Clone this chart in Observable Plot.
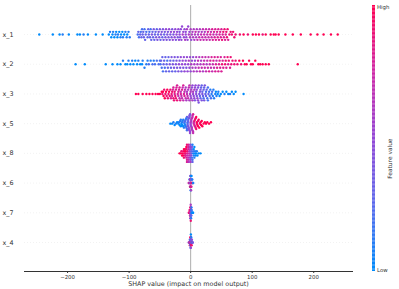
<!DOCTYPE html>
<html><head><meta charset="utf-8">
<script src="https://cdn.jsdelivr.net/npm/d3@7"></script>
<script src="https://cdn.jsdelivr.net/npm/@observablehq/plot@0.6"></script>
<style>
html,body{margin:0;padding:0;background:#fff;}
#wrap{position:relative;width:399px;height:289px;}
#wrap svg{position:absolute;top:0;overflow:visible;font-family:"DejaVu Sans",sans-serif;}
</style></head><body><div id="wrap"></div>
<script>
// feature order (top to bottom) and tick labels
const features = ["x_1","x_2","x_3","x_5","x_8","x_6","x_7","x_4"];
const xTicks = [-200,-100,0,100,200];
const colorLabels = ["Low","High"];
// colormap stops (low -> high feature value)
const colorStops = ["#008bfb","#5a68ec","#9348d6","#cf27a6","#ff0052"];

// [SHAP value, feature value 0..10]
const pts_x_1 = [[-246,0],[-224,0],[-213,0],[-208,1],[-198,0],[-184,0],[-180,0],[-174,1],[-167,0],[-154,0],[-143,0],[-133,0],[-131,1],[-129,0],[-127,0],[-126,1],[-124,0],[-122,1],[-121,0],[-119,0],[-118,1],[-116,0],[-114,1],[-113,0],[-111,0],[-110,1],[-108,0],[-106,1],[-104,1],[-103,0],[-101,1],[-99,1],
[-86,2],[-85,3],[-84,2],[-82,3],[-81,2],[-80,3],[-79,2],[-78,3],[-77,3],[-76,3],[-75,2],[-74,3],[-73,3],[-72,2],[-70,3],[-69,3],[-68,3],[-67,2],[-66,3],[-65,2],[-64,3],[-63,4],[-62,3],[-61,3],[-60,4],[-59,3],[-58,3],[-57,3],[-56,4],[-55,3],[-54,4],[-53,3],[-52,4],[-51,4],[-50,4],[-49,3],[-48,4],[-47,4],[-46,3],[-45,4],[-44,4],[-43,3],[-42,4],[-41,4],[-40,5],[-39,4],[-38,4],[-37,4],[-36,4],[-35,5],[-34,4],[-33,4],[-32,5],[-31,4],[-30,4],[-29,5],[-28,4],[-27,5],[-26,5],[-25,5],[-24,4],[-23,5],[-22,5],[-21,4],[-20,5],[-19,5],[-18,5],[-18,4],[-17,4],[-16,5],[-15,5],[-14,5],[-13,6],[-12,5],[-11,5],[-10,5],[-9,6],[-8,5],[-8,5],[-7,5],[-6,6],[-5,5],[-4,5],[-3,6],[-2,5],[-1,6],
[0,6],[1,5],[2,6],[3,6],[4,6],[5,6],[6,6],[7,6],[8,7],[9,6],[10,6],[11,7],[12,6],[13,6],[14,7],[15,6],[16,7],[17,7],[18,6],[19,7],[20,7],[21,7],[22,7],[23,6],[24,7],[25,7],[26,7],[27,7],[28,8],[29,7],[30,7],[31,7],[32,8],[33,7],[34,7],[35,8],[36,8],[37,7],[38,8],[39,8],[40,8],[41,8],[42,7],[43,8],[44,8],[45,8],[46,8],[47,8],[48,8],[49,8],[50,8],[51,9],[52,8],[53,9],[54,8],[55,9],[56,8],[57,8],[58,9],[59,9],[60,9],[61,8],[63,9],[65,9],[67,9],[69,9],[71,9],[73,9],
[80,9],[86,10],[93,9],[101,10],[106,10],[111,10],[117,9],[122,10],[130,10],[135,10],[138,10],[143,10],[154,10],[166,10],[179,10],[195,10],[206,10],[216,10],[228,10],[239,10]];

const pts_x_2 = [[-187,0],[-172,0],[-138,0],[-127,0],[-119,0],[-114,0],[-110,1],[-106,0],[-103,0],[-101,1],[-98,0],[-95,1],[-93,0],[-90,0],[-87,0],[-85,1],[-82,0],[-79,0],[-78,1],[-75,1],[-72,1],[-70,1],[-68,2],[-65,1],[-62,2],[-60,1],[-58,2],[-55,2],[-52,2],[-50,2],
[-49,2],[-48,3],[-47,2],[-46,3],[-45,2],[-44,3],[-43,3],[-42,2],[-41,3],[-40,3],[-39,3],[-38,2],[-37,3],[-36,3],[-35,3],[-34,4],[-33,3],[-32,3],[-31,4],[-30,3],[-29,4],[-28,3],[-27,4],[-26,4],[-25,3],[-24,4],[-23,4],[-22,4],[-21,4],[-20,4],[-19,5],[-18,4],[-17,4],[-16,5],[-15,4],[-14,5],[-13,5],[-12,4],[-11,5],[-10,5],[-9,5],[-8,5],[-7,4],[-6,5],[-5,5],[-4,5],[-3,6],[-2,5],[-1,5],[0,5],[1,6],[2,5],[3,6],[4,5],[5,6],[6,6],[7,5],[8,6],[9,6],[10,6],
[11,6],[12,7],[13,7],[14,6],[15,7],[16,6],[17,6],[18,7],[19,7],[20,6],[21,7],[22,7],[23,7],[24,7],[25,7],[26,6],[27,7],[28,7],[29,7],[30,8],[31,7],[32,8],[33,7],[34,8],[35,7],[36,7],[37,8],[38,7],[39,8],[40,8],[41,8],[42,7],[43,8],[44,8],[45,8],[46,8],[47,8],[48,8],[49,8],[50,8],[51,9],[52,8],[53,8],[55,8],[56,9],[57,9],[58,8],[60,9],[61,8],[62,9],[64,8],[65,9],[66,9],[68,9],[71,9],[73,9],
[76,9],[79,10],[82,9],[85,10],[88,10],[91,10],[95,10],[98,10],[101,10],[105,10],[110,10],[113,10],[117,10],[122,10],[127,10],[174,10]];

const pts_x_3 = [[-89,10],[-85,10],[-78,10],[-72,10],[-67,10],[-62,10],[-57,10],[-53,10],[-50,10],
[-47,10],[-46,9],[-45,10],[-44,10],[-43,9],[-42,10],[-41,9],[-40,10],[-39,9],[-38,10],[-37,9],[-36,9],[-35,10],[-34,9],[-33,9],[-32,8],[-31,9],[-30,9],[-30,8],[-29,8],[-28,9],[-28,8],[-27,9],[-26,8],[-26,9],[-25,9],[-24,8],[-24,9],[-23,8],[-22,9],[-22,8],[-21,8],[-20,8],[-20,7],[-19,8],[-18,7],[-18,8],[-17,8],[-16,8],[-16,7],[-15,7],[-14,8],[-14,7],[-13,7],[-12,7],[-12,8],[-11,8],[-10,7],[-10,8],[-9,7],[-8,7],[-8,6],[-7,6],[-6,7],[-6,6],[-5,7],[-4,6],[-4,7],[-3,7],[-2,6],[-2,7],[-1,6],[0,6],[0,5],[1,6],[1,5],[2,5],[3,6],[3,5],[4,5],[4,6],[5,5],[6,6],[6,5],[7,5],[7,4],[8,5],[9,5],[9,4],[10,4],[10,5],[11,5],[12,4],[12,5],[13,5],[13,4],[14,4],[15,4],[15,3],[16,4],[16,3],[17,3],[18,4],[18,3],[19,4],[19,3],[20,3],[21,3],[21,2],[22,3],[22,4],[23,4],[24,3],[25,2],[25,3],[26,3],[27,2],[28,2],[28,2],[29,3],[30,2],[31,2],[32,1],[33,2],[34,1],[35,2],[36,1],[37,1],[38,1],[40,1],[41,0],[42,1],[44,0],[45,1],[47,0],[49,0],
[52,0],[55,1],[58,0],[61,0],[64,1],[67,0],[70,0],[73,0],[86,0]];

const pts_x_5 = [[-33,0],[-30,0],[-28,1],[-26,0],[-24,1],[-22,0],
[-20,0],[-19,1],[-18,0],[-17,1],[-16,0],[-16,1],[-15,0],[-14,1],[-14,0],[-13,1],[-12,0],[-12,1],[-11,1],[-10,0],[-10,2],[-9,1],[-9,2],[-8,1],[-8,2],[-7,2],[-7,1],[-6,2],[-6,3],[-6,2],[-5,3],[-5,2],[-5,3],[-4,3],[-4,4],[-4,3],[-3,4],[-3,3],[-3,4],[-2,4],[-2,5],[-2,4],[-1,5],[-1,4],[-1,5],[0,5],[0,6],[0,5],[1,6],[1,5],[1,6],[2,6],[2,7],[2,6],[3,7],[3,6],[3,7],[4,7],[4,8],[4,7],[5,8],[5,7],[6,8],[6,9],[7,8],[7,9],[8,9],[8,9],[9,9],[9,10],[10,9],[10,10],[11,10],[12,9],[12,10],[13,10],[14,10],[15,9],[16,10],[17,10],[18,10],[19,10],[21,10],
[23,10],[25,10],[27,10],[30,10],[33,10]];

const pts_x_8 = [[-18,10],[-16,10],[-15,9],[-14,10],[-13,10],[-12,9],[-12,10],[-11,10],[-11,9],[-10,9],[-10,10],[-9,9],[-9,10],[-8,9],[-8,10],[-8,8],[-7,9],[-7,8],[-7,10],[-6,8],[-6,9],[-6,8],[-5,8],[-5,9],[-5,7],[-4,8],[-4,7],[-4,8],[-3,7],[-3,8],[-3,6],[-2,7],[-2,6],[-2,7],[-1,6],[-1,5],[-1,6],[0,5],[0,4],[0,6],[1,4],[1,3],[1,5],[2,3],[2,2],[2,4],[3,2],[3,1],[3,3],[4,1],[4,2],[5,1],[5,0],[6,1],[6,0],[7,0],[7,1],[8,0],[9,0],[10,1],[11,0],[13,0],[16,0]];

const pts_x_6 = [[-3.2,8],[-2.6,2],[-2.1,9],[-1.8,1],[-1.5,7],[-1.3,3],[-1.1,9],[-0.9,2],[-0.8,6],[-0.6,10],[-0.5,1],[-0.4,5],[-0.2,9],[-0.1,2],[0,7],[0.1,0],[0.2,8],[0.3,4],[0.5,10],[0.6,1],[0.7,6],[0.9,9],[1.0,2],[1.2,8],[1.4,0],[1.6,7],[1.9,3],[2.2,10],[2.6,1],[3.1,9],[3.6,0],[4.2,1]];

const pts_x_7 = [[-3.0,9],[-2.4,10],[-2.0,8],[-1.7,10],[-1.4,9],[-1.2,7],[-1.0,10],[-0.9,8],[-0.7,9],[-0.6,6],[-0.5,10],[-0.4,8],[-0.3,7],[-0.2,9],[-0.1,5],[0,8],[0,4],[0.1,6],[0.2,9],[0.3,3],[0.4,5],[0.5,2],[0.6,7],[0.7,1],[0.8,4],[1.0,0],[1.1,3],[1.3,1],[1.5,0],[1.8,2],[2.2,0],[2.7,1],[3.3,0],[4.0,0]];

const pts_x_4 = [[-3.1,5],[-2.5,8],[-2.0,2],[-1.7,9],[-1.4,4],[-1.2,10],[-1.0,1],[-0.8,7],[-0.7,3],[-0.5,9],[-0.4,0],[-0.3,6],[-0.2,10],[-0.1,2],[0,8],[0,4],[0.1,1],[0.2,9],[0.3,5],[0.4,0],[0.5,7],[0.6,3],[0.8,10],[0.9,1],[1.1,6],[1.3,2],[1.5,9],[1.8,0],[2.1,5],[2.5,8],[3.0,1],[3.5,4]];

const rowsData = [pts_x_1, pts_x_2, pts_x_3, pts_x_5, pts_x_8, pts_x_6, pts_x_7, pts_x_4];

// SHAP-style beeswarm stacking (bins, alternate above/below, per-row normalisation)
function layoutRow(pairs, row) {
  const vals = pairs.map(p => p[0]);
  const mn = d3.min(vals), mx = d3.max(vals);
  const w = Math.min(5, (mx - mn) / 12);
  const quant = vals.map(v => Math.round((v - mn) / w));
  const order = d3.range(vals.length).sort((a, b) => quant[a] - quant[b] || a - b);
  const ys = new Array(vals.length).fill(0);
  let layer = 0, last = -1;
  for (const i of order) {
    if (quant[i] !== last) layer = 0;
    ys[i] = Math.ceil(layer / 2) * ((layer % 2) * 2 - 1);
    layer++; last = quant[i];
  }
  const k = d3.max(ys, y => y + 1);
  return pairs.map((p, i) => ({v: p[0], fv: p[1], y: row - ys[i] * 0.9 * 0.4 / k}));
}
const points = rowsData.flatMap((r, i) => layoutRow(r, i));

const colorOpts = {type: "linear", domain: [0, 10], interpolate: d3.piecewise(d3.interpolateRgb, colorStops)};
const fmt = d => d < 0 ? "\u2212" + Math.abs(d) : String(d);

const chart = Plot.plot({
  width: 399, height: 289,
  marginLeft: 24, marginRight: 47, marginTop: 5, marginBottom: 18,
  style: {fontFamily: "DejaVu Sans, sans-serif", color: "#333"},
  x: {domain: [-270, 263]},
  y: {domain: [-0.976, 7.976], reverse: true},
  color: colorOpts,
  marks: [
    Plot.ruleY(d3.range(features.length), {stroke: "#cccccc", strokeWidth: 0.5, strokeDasharray: "0.5,2.5"}),
    Plot.ruleX([0], {stroke: "#999999", strokeWidth: 0.8}),
    Plot.dot(points, {x: "v", y: "y", fill: "fv", r: 1.2, stroke: "none"}),
    Plot.frame({anchor: "bottom", stroke: "#333"}),
    Plot.axisX({ticks: xTicks, tickFormat: fmt, tickSize: 2, tickPadding: 2, fontSize: 5.4, label: null, stroke: "#333", fill: "#333"}),
    Plot.axisY({ticks: d3.range(features.length), tickFormat: i => features[i], tickSize: 0, tickPadding: 0, textAnchor: "start", dx: -22, fontSize: 6.4, label: null, fill: "#333"}),
    Plot.text(["SHAP value (impact on model output)"], {frameAnchor: "bottom", dy: 14, fontSize: 6.4, fill: "#333"})
  ]
});

const ramp = d3.range(200);
const bar = Plot.plot({
  width: 39, height: 289,
  marginLeft: 12, marginRight: 24, marginTop: 5, marginBottom: 18,
  style: {fontFamily: "DejaVu Sans, sans-serif"},
  x: {domain: [0, 1], axis: null},
  y: {domain: [0, 200], axis: null},
  color: colorOpts,
  marks: [
    Plot.rect(ramp, {x1: 0, x2: 1, y1: d => d, y2: d => d + 1.02, fill: d => d / 199 * 10}),
    Plot.text([colorLabels[1]], {frameAnchor: "top-right", dx: 1.5, textAnchor: "start", fontSize: 5.4, fill: "#333"}),
    Plot.text([colorLabels[0]], {frameAnchor: "bottom-right", dx: 1.5, textAnchor: "start", fontSize: 5.4, fill: "#333"}),
    Plot.text(["Feature value"], {frameAnchor: "right", dx: 15, rotate: -90, fontSize: 5.9, fill: "#333"})
  ]
});
bar.style.left = "360px";
chart.style.left = "0px";
const wrap = document.getElementById("wrap");
wrap.appendChild(chart);
wrap.appendChild(bar);
</script>
</body></html>
